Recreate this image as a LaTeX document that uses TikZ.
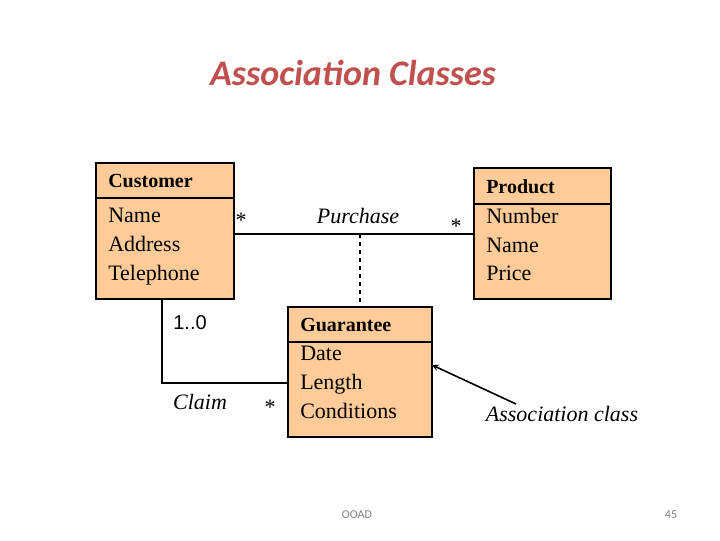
\documentclass[tikz,border=0pt]{standalone}
\usepackage{fontspec}
\setmainfont{Liberation Serif}
\newfontfamily\calib{Carlito}
\newfontfamily\arialf{Liberation Sans}
\definecolor{peach}{HTML}{FFCC99}
\definecolor{titlered}{HTML}{C0504D}
\begin{document}
\begin{tikzpicture}[x=0.75pt,y=-0.75pt,
  cls/.style={draw,line width=1.2pt,fill=peach},
  lbl/.style={inner sep=0pt,anchor=west,font=\fontsize{16.5}{21.5}\selectfont,align=left},
  hdr/.style={inner sep=0pt,anchor=west,font=\fontsize{15}{18}\selectfont\bfseries},
  ln/.style={line width=1.2pt}]
\useasboundingbox (0,0) rectangle (720,540);
\node[font=\calib\fontsize{27}{30}\selectfont\bfseries\itshape,text=titlered] (title) at (353,73) {Association Classes};
% Customer
\draw[cls] (96,163) rectangle (234,299);
\draw[ln] (96,198) -- (234,198);
\node[hdr] (ch) at (108,181) {Customer};
\node[lbl,anchor=north west] (cb) at (108,208) {Name\\Address\\Telephone};
% Product
\draw[cls] (474,168) rectangle (611,299);
\draw[ln] (474,204) -- (611,204);
\node[hdr] (ph) at (486,187) {Product};
\node[lbl,anchor=north west] (pb) at (486,208) {Number\\Name\\Price};
% Guarantee
\draw[cls] (288,307) rectangle (432,437);
\draw[ln] (288,342) -- (432,342);
\node[hdr] (gh) at (300,325) {Guarantee};
\node[lbl,anchor=north west] (gb) at (300,346) {Date\\Length\\Conditions};
% connectors
\coordinate (c1) at (234,234); \coordinate (p1) at (474,234);
\draw[ln] (c1) -- (p1);
\coordinate (d1) at (360,234); \coordinate (d2) at (360,307);
\draw[ln,dashed] (d1) -- (d2);
\coordinate (k1) at (162,299); \coordinate (k2) at (162,383); \coordinate (k3) at (288,383);
\draw[ln] (k1) -- (k2) -- (k3);
\coordinate (a1) at (516,404); \coordinate (a2) at (432,365);
\draw[ln,-stealth] (a1) -- (a2);
% labels
\node[font=\fontsize{16.5}{20}\selectfont] (s1) at (241,220) {*};
\node[font=\fontsize{16.5}{20}\selectfont] (s2) at (456,226) {*};
\node[font=\fontsize{16.5}{20}\selectfont] (s3) at (270,407) {*};
\node[font=\fontsize{16.5}{20}\selectfont\itshape] (pl) at (358,216) {Purchase};
\node[font=\fontsize{16.5}{20}\selectfont\itshape] (cl) at (200,402) {Claim};
\node[font=\arialf\fontsize{15}{18}\selectfont] (m) at (190,323) {1..0};
\node[font=\fontsize{16.5}{20}\selectfont\itshape] (ac) at (562,414) {Association class};
\node[font=\calib\fontsize{9}{10}\selectfont,text=gray] (f1) at (357,515) {OOAD};
\node[font=\calib\fontsize{9}{10}\selectfont,text=gray] (f2) at (671,515) {45};
\end{tikzpicture}
\end{document}
